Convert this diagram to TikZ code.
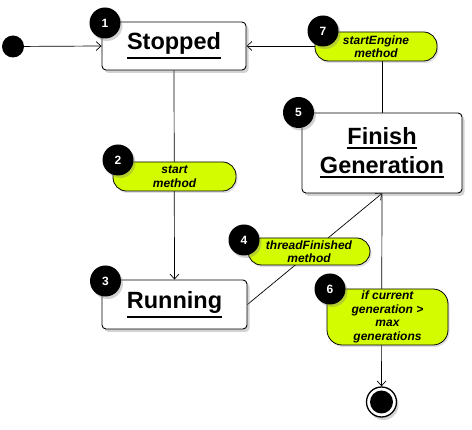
\documentclass[tikz,border=0pt]{standalone}
\usepackage{fontspec}
\setmainfont{Liberation Sans}
\usetikzlibrary{shadows,arrows.meta,backgrounds}
\definecolor{pillgreen}{RGB}{212,252,0}
\newcommand\ulword[1]{\leavevmode\setbox0=\hbox{#1}\rlap{\copy0}\rule[\dimexpr-\dp0-4.3pt\relax]{\wd0}{1.9pt}}
\begin{document}
\begin{tikzpicture}[x=1pt,y=-1pt,
  state/.style={draw, fill=white, rounded corners=4pt, line width=0.9pt,
    drop shadow={shadow xshift=2.5pt,shadow yshift=-3pt,opacity=0.35},
    font=\fontsize{23.5}{29}\selectfont\bfseries, align=center, inner sep=0pt},
  pill/.style={draw, fill=pillgreen, rounded corners=13.5pt, line width=0.8pt,
    drop shadow={shadow xshift=1.5pt,shadow yshift=-2pt,opacity=0.25},
    font=\fontsize{12}{13.5}\selectfont\bfseries\itshape, align=center, inner sep=0pt},
  badge/.style={circle, fill=black, minimum size=31pt, inner sep=0pt, text=white,
    font=\fontsize{12}{12}\selectfont\bfseries,
    drop shadow={shadow xshift=2pt,shadow yshift=-2.5pt,opacity=0.35}},
  link/.style={line width=0.7pt, -{Straight Barb[length=5pt,width=9pt]}},
  plain/.style={line width=0.7pt}
]
\useasboundingbox (0,0) rectangle (472,430);

% states
\node[circle, fill=black, minimum size=22pt, inner sep=0pt] (start) at (13,46.5) {};
\node[state, minimum width=144pt, minimum height=48pt] (stopped) at (174,46) {\ulword{Stopped}};
\node[state, minimum width=160pt, minimum height=80pt] (fin) at (382,153) {\ulword{Finish}\\\ulword{Generation}};
\node[state, minimum width=145pt, minimum height=49pt] (run) at (174.5,304.5) {\ulword{Running}};
\node[circle, draw=black, line width=1.3pt, fill=white, minimum size=30pt, inner sep=0pt,
  drop shadow={shadow xshift=2pt,shadow yshift=-3pt,opacity=0.35}] (end) at (381.5,402) {};
\node[circle, fill=black, minimum size=23pt, inner sep=0pt] (endin) at (end.center) {};

% pills
\node[pill, minimum width=122pt, minimum height=29pt] (p7) at (376,46.5) {startEngine\\method};
\node[pill, minimum width=123pt, minimum height=29pt] (p2) at (174.5,176.5) {start\\method};
\node[pill, minimum width=122pt, minimum height=27pt] (p4) at (309,251.5) {threadFinished\\method};
\node[pill, minimum width=121pt, minimum height=56pt, rounded corners=15pt] (p6) at (387.5,317) {if current\\generation >\\max\\generations};

% badges
\node[badge] (b1) at (105,23) {1};
\node[badge] (b2) at (118,160) {2};
\node[badge] (b3) at (105.5,281) {3};
\node[badge] (b4) at (244,240) {4};
\node[badge] (b5) at (298.5,112.5) {5};
\node[badge] (b6) at (330,289) {6};
\node[badge] (b7) at (323,31) {7};

% connectors
\begin{scope}[on background layer]
\draw[link] (start) -- (stopped.west);
\draw[link] (fin.north) |- (stopped.east);
\draw[link] (stopped.south) -- (run.north);
\draw[link] (run.east) -- (fin.south);
\draw[link] (fin.south) -- (end);
\end{scope}
\end{tikzpicture}
\end{document}
